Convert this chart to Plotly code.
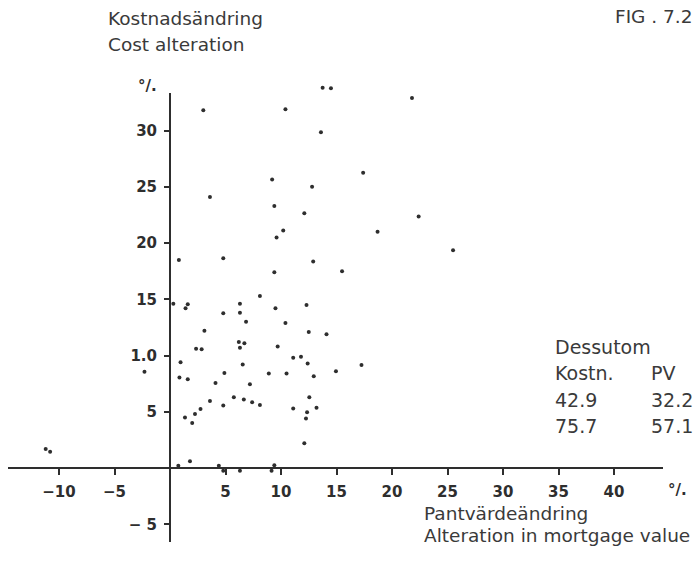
import plotly.graph_objects as go

# ---- data ----
pv_change = [3.0, 10.4, 13.75, 14.5, 13.6, 21.8, 9.2, 12.8, 3.6, 9.4, 12.1, 10.2, 9.6,
             17.4, 22.4, 18.7, 25.5, 0.8, 4.8, 12.9, 15.5, 9.4, 8.1, 12.3, 9.5, 0.3,
             1.4, 1.6, 6.3, 6.3, 4.8, 6.85, 10.4, 12.5, 14.1, 3.1, 2.35, 2.85, 6.2,
             6.7, 6.3, 9.7, 0.95, 11.1, 11.8, 12.4, 6.55, -2.3, 0.85, 1.6, 4.9, 8.9,
             10.5, 12.95, 14.95, 17.25, 4.1, 7.2, 5.75, 6.65, 7.4, 8.1, 4.8, 3.6,
             12.55, 11.1, 13.2, 12.35, 12.25, 2.75, 2.25, 1.35, 2.0, 12.1, -11.2,
             -10.8, 1.8, 0.75, 4.4, 4.8, 6.3, 9.15, 9.4]
cost_change = [31.8, 31.9, 33.8, 33.75, 29.85, 32.9, 25.65, 25.0, 24.1, 23.3, 22.65, 21.1,
               20.5, 26.25, 22.35, 21.0, 19.35, 18.5, 18.65, 18.35, 17.5, 17.4, 15.3,
               14.5, 14.2, 14.6, 14.2, 14.55, 14.6, 13.8, 13.75, 13.0, 12.9, 12.1, 11.9,
               12.2, 10.6, 10.55, 11.2, 11.1, 10.7, 10.8, 9.4, 9.8, 9.9, 9.3, 9.2, 8.55,
               8.05, 7.9, 8.45, 8.4, 8.4, 8.15, 8.6, 9.15, 7.55, 7.45, 6.3, 6.1, 5.85,
               5.6, 5.55, 5.95, 6.3, 5.3, 5.35, 4.95, 4.4, 5.25, 4.8, 4.5, 4.0, 2.2,
               1.7, 1.45, 0.6, 0.2, 0.2, -0.25, -0.25, -0.25, 0.25]

x_tickvals = [-10, -5, 5, 10, 15, 20, 25, 30, 35, 40]
x_ticktext = ["\u221210", "\u22125", "5", "10", "15", "20", "25", "30", "35", "40"]
y_tickvals = [-5, 5, 10, 15, 20, 25, 30]
y_ticktext = ["\u2212 5", "5", "1.0", "15", "20", "25", "30"]

extra_header = ["Dessutom"]
extra_cols = ["Kostn.", "PV"]
extra_kostn = ["42.9", "75.7"]
extra_pv = ["32.2", "57.1"]

W, H = 696, 563
INK = "#2e2e2e"
tick_font = dict(family="DejaVu Sans", size=15, color=INK, weight="bold")
text_font = dict(family="DejaVu Sans", size=18.5, color="#3a3a3a")
big_font = dict(family="DejaVu Sans", size=19, color="#3a3a3a")

fig = go.Figure()
fig.add_trace(go.Scatter(
    x=pv_change, y=cost_change, mode="markers", cliponaxis=False,
    marker=dict(size=4, color=INK), showlegend=False, hoverinfo="x+y"))

def px(xp):
    return xp / W

def py(yp):
    return 1 - yp / H

Y_PER = 11.25  # pixels per y unit
Y0 = 468       # pixel row of y = 0
y_lo, y_hi = -(H - Y0) / Y_PER, Y0 / Y_PER
y_axis_bottom, y_axis_top = -(542 - Y0) / Y_PER, (Y0 - 93) / Y_PER

fig.update_layout(
    width=W, height=H, margin=dict(l=0, r=0, t=0, b=0),
    paper_bgcolor="white", plot_bgcolor="rgba(0,0,0,0)",
    xaxis=dict(
        domain=[px(8), px(663)], range=[-14.595, 44.414],
        anchor="free", position=py(Y0),
        showline=True, linecolor=INK, linewidth=2,
        showgrid=False, zeroline=False,
        ticks="outside", ticklen=6, tickwidth=1.5, tickcolor=INK,
        tickvals=x_tickvals, ticktext=x_ticktext, tickfont=tick_font,
        ticklabelstandoff=4),
    yaxis=dict(
        domain=[0, 1], range=[y_lo, y_hi],
        anchor="free", position=px(170),
        showline=False, showgrid=False, zeroline=False,
        ticks="outside", ticklen=6, tickwidth=1.5, tickcolor=INK,
        tickvals=y_tickvals, ticktext=y_ticktext, tickfont=tick_font,
        ticklabelstandoff=4),
    shapes=[dict(type="line", xref="x", yref="y", x0=0, x1=0,
                 y0=y_axis_bottom, y1=y_axis_top,
                 line=dict(color=INK, width=2), layer="below")],
)

ann = []
def add(text, x, y, font, xanchor="left", yanchor="middle"):
    ann.append(dict(text=text, x=px(x), y=py(y), xref="paper", yref="paper",
                    xanchor=xanchor, yanchor=yanchor, showarrow=False, font=font))

add("Kostnadsändring", 106, 19, text_font)
add("Cost alteration", 106, 45, text_font)
add("FIG . 7.2", 613, 17, text_font)
add("°/.", 147, 86, tick_font, xanchor="center")
add("°/.", 677, 490, tick_font, xanchor="center")
add("Pantvärdeändring", 422, 513, text_font)
add("Alteration in mortgage value", 422, 535, text_font)
add(extra_header[0], 553, 347, big_font)
add(extra_cols[0], 553, 373, big_font)
add(extra_cols[1], 649, 373, big_font)
for i, (k, p) in enumerate(zip(extra_kostn, extra_pv)):
    add(k, 553, 400 + 26 * i, big_font)
    add(p, 649, 400 + 26 * i, big_font)

fig.update_layout(annotations=ann)
fig.write_html("out.html")
